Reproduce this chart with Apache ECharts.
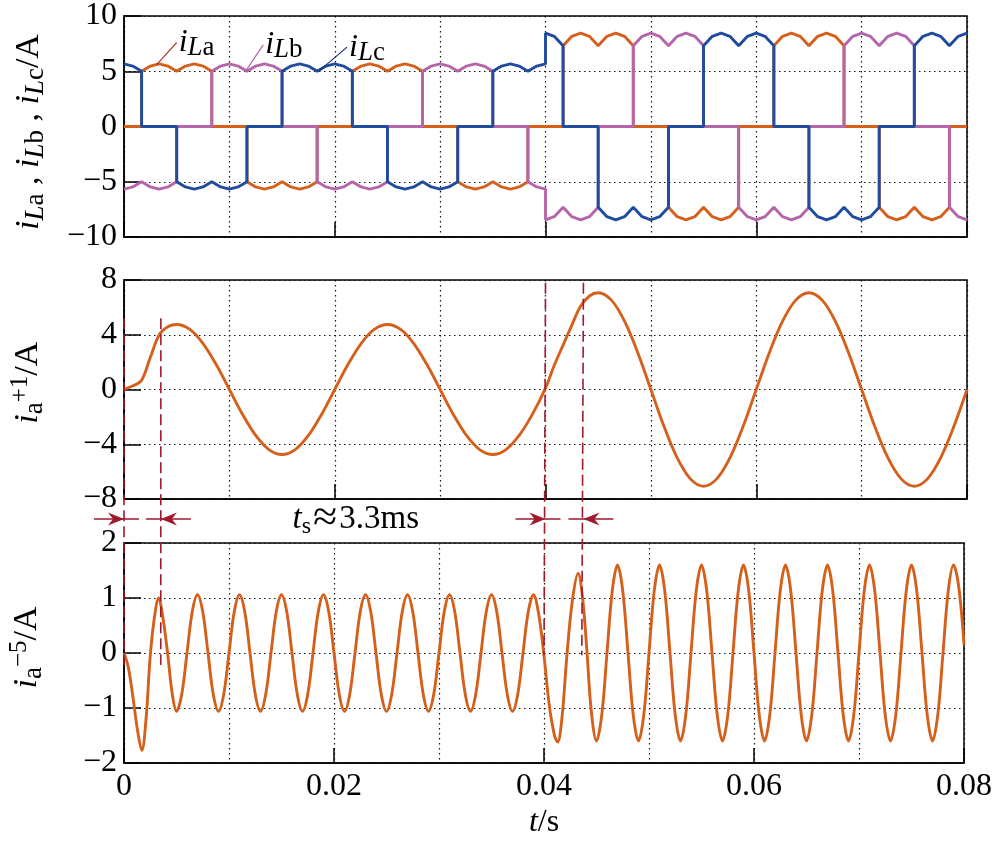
<!DOCTYPE html>
<html><head><meta charset="utf-8">
<script src="https://cdn.jsdelivr.net/npm/echarts@6/dist/echarts.min.js"></script>
<style>html,body{margin:0;padding:0;background:#fff}#c{width:995px;height:845px}</style>
</head><body><div id="c"></div>
<script>
// ---- data (time in ms, current in A) ----
const xTickLabels = ['0', '0.02', '0.04', '0.06', '0.08']; // at 0,20,40,60,80 ms
const yTicksTop = [-10, -5, 0, 5, 10];
const yTicksMid = [-8, -4, 0, 4, 8];
const yTicksBot = [-2, -1, 0, 1, 2];

const iLa = [[0,0],[1.67,0],
[1.67,5],[2.5,5.47],[3.33,5.66],[4.17,5.47],[5,5],[5.83,5.47],[6.67,5.66],[7.5,5.47],[8.33,5],[8.33,0],
[11.67,0],[11.67,-5],[12.5,-5.47],[13.33,-5.66],[14.17,-5.47],[15,-5],[15.83,-5.47],[16.67,-5.66],[17.5,-5.47],[18.33,-5],[18.33,0],
[21.67,0],[21.67,5],[22.5,5.47],[23.33,5.66],[24.17,5.47],[25,5],[25.83,5.47],[26.67,5.66],[27.5,5.47],[28.33,5],[28.33,0],
[31.67,0],[31.67,-5],[32.5,-5.47],[33.33,-5.66],[34.17,-5.47],[35,-5],[35.83,-5.47],[36.67,-5.66],[37.5,-5.47],[38.33,-5],[38.33,0],
[41.67,0],[41.67,7.3],[42.5,8.16],[43.33,8.45],[44.17,8.16],[45,7.3],[45.83,8.16],[46.67,8.45],[47.5,8.16],[48.33,7.3],[48.33,0],
[51.67,0],[51.67,-7.3],[52.5,-8.16],[53.33,-8.45],[54.17,-8.16],[55,-7.3],[55.83,-8.16],[56.67,-8.45],[57.5,-8.16],[58.33,-7.3],[58.33,0],
[61.67,0],[61.67,7.3],[62.5,8.16],[63.33,8.45],[64.17,8.16],[65,7.3],[65.83,8.16],[66.67,8.45],[67.5,8.16],[68.33,7.3],[68.33,0],
[71.67,0],[71.67,-7.3],[72.5,-8.16],[73.33,-8.45],[74.17,-8.16],[75,-7.3],[75.83,-8.16],[76.67,-8.45],[77.5,-8.16],[78.33,-7.3],[78.33,0],
[80,0]];

const iLb = [[0,-5.66],[0.83,-5.47],[1.67,-5],[2.5,-5.47],[3.33,-5.66],[4.17,-5.47],[5,-5],[5,0],
[8.33,0],[8.33,5],[9.17,5.47],[10,5.66],[10.83,5.47],[11.67,5],[12.5,5.47],[13.33,5.66],[14.17,5.47],[15,5],[15,0],
[18.33,0],[18.33,-5],[19.17,-5.47],[20,-5.66],[20.83,-5.47],[21.67,-5],[22.5,-5.47],[23.33,-5.66],[24.17,-5.47],[25,-5],[25,0],
[28.33,0],[28.33,5],[29.17,5.47],[30,5.66],[30.83,5.47],[31.67,5],[32.5,5.47],[33.33,5.66],[34.17,5.47],[35,5],[35,0],
[38.33,0],[38.33,-5],[39.17,-5.47],[40,-5.66],[40,-8.45],[40.83,-8.16],[41.67,-7.3],[42.5,-8.16],[43.33,-8.45],[44.17,-8.16],[45,-7.3],[45,0],
[48.33,0],[48.33,7.3],[49.17,8.16],[50,8.45],[50.83,8.16],[51.67,7.3],[52.5,8.16],[53.33,8.45],[54.17,8.16],[55,7.3],[55,0],
[58.33,0],[58.33,-7.3],[59.17,-8.16],[60,-8.45],[60.83,-8.16],[61.67,-7.3],[62.5,-8.16],[63.33,-8.45],[64.17,-8.16],[65,-7.3],[65,0],
[68.33,0],[68.33,7.3],[69.17,8.16],[70,8.45],[70.83,8.16],[71.67,7.3],[72.5,8.16],[73.33,8.45],[74.17,8.16],[75,7.3],[75,0],
[78.33,0],[78.33,-7.3],[79.17,-8.16],[80,-8.45]];

const iLc = [[0,5.66],[0.83,5.47],[1.67,5],[1.67,0],
[5,0],[5,-5],[5.83,-5.47],[6.67,-5.66],[7.5,-5.47],[8.33,-5],[9.17,-5.47],[10,-5.66],[10.83,-5.47],[11.67,-5],[11.67,0],
[15,0],[15,5],[15.83,5.47],[16.67,5.66],[17.5,5.47],[18.33,5],[19.17,5.47],[20,5.66],[20.83,5.47],[21.67,5],[21.67,0],
[25,0],[25,-5],[25.83,-5.47],[26.67,-5.66],[27.5,-5.47],[28.33,-5],[29.17,-5.47],[30,-5.66],[30.83,-5.47],[31.67,-5],[31.67,0],
[35,0],[35,5],[35.83,5.47],[36.67,5.66],[37.5,5.47],[38.33,5],[39.17,5.47],[40,5.66],[40,8.45],[40.83,8.16],[41.67,7.3],[41.67,0],
[45,0],[45,-7.3],[45.83,-8.16],[46.67,-8.45],[47.5,-8.16],[48.33,-7.3],[49.17,-8.16],[50,-8.45],[50.83,-8.16],[51.67,-7.3],[51.67,0],
[55,0],[55,7.3],[55.83,8.16],[56.67,8.45],[57.5,8.16],[58.33,7.3],[59.17,8.16],[60,8.45],[60.83,8.16],[61.67,7.3],[61.67,0],
[65,0],[65,-7.3],[65.83,-8.16],[66.67,-8.45],[67.5,-8.16],[68.33,-7.3],[69.17,-8.16],[70,-8.45],[70.83,-8.16],[71.67,-7.3],[71.67,0],
[75,0],[75,7.3],[75.83,8.16],[76.67,8.45],[77.5,8.16],[78.33,7.3],[79.17,8.16],[80,8.45]];

const ia1 = [[0,0],[0.8,0.25],[1.65,0.65],[2.5,2.35],[3.35,4.0],[4.2,4.6],[5,4.75],[6.25,4.39],[7.5,3.36],[8.75,1.82],
[10,0],[11.25,-1.82],[12.5,-3.36],[13.75,-4.39],[15,-4.75],[16.25,-4.39],[17.5,-3.36],[18.75,-1.82],
[20,0],[21.25,1.82],[22.5,3.36],[23.75,4.39],[25,4.75],[26.25,4.39],[27.5,3.36],[28.75,1.82],
[30,0],[31.25,-1.82],[32.5,-3.36],[33.75,-4.39],[35,-4.75],[36.25,-4.39],[37.5,-3.36],[38.75,-1.82],
[40,0.1],[40.8,1.7],[41.7,3.3],[42.5,4.7],[43.3,6.05],[44.2,6.85],[45,7.07],[46.25,6.53],[47.5,5.0],[48.75,2.71],
[50,0],[51.25,-2.71],[52.5,-5.0],[53.75,-6.53],[55,-7.07],[56.25,-6.53],[57.5,-5.0],[58.75,-2.71],
[60,0],[61.25,2.71],[62.5,5.0],[63.75,6.53],[65,7.07],[66.25,6.53],[67.5,5.0],[68.75,2.71],
[70,0],[71.25,-2.71],[72.5,-5.0],[73.75,-6.53],[75,-7.07],[76.25,-6.53],[77.5,-5.0],[78.75,-2.71],[80,0]];

const ia5 = [[0,0],[0.4,-0.25],[0.85,-0.8],[1.3,-1.42],[1.7,-1.77],[2.1,-1.2],[2.5,-0.05],[2.9,0.65],[3.3,1.0],[3.7,0.65],[4.15,0],[4.6,-0.75],
[5,-1.06],[5.5,-0.75],[6,0],[6.5,0.75],[7,1.06],[7.5,0.75],[8,0],[8.5,-0.75],
[9,-1.06],[9.5,-0.75],[10,0],[10.5,0.75],[11,1.06],[11.5,0.75],[12,0],[12.5,-0.75],
[13,-1.06],[13.5,-0.75],[14,0],[14.5,0.75],[15,1.06],[15.5,0.75],[16,0],[16.5,-0.75],
[17,-1.06],[17.5,-0.75],[18,0],[18.5,0.75],[19,1.06],[19.5,0.75],[20,0],[20.5,-0.75],
[21,-1.06],[21.5,-0.75],[22,0],[22.5,0.75],[23,1.06],[23.5,0.75],[24,0],[24.5,-0.75],
[25,-1.06],[25.5,-0.75],[26,0],[26.5,0.75],[27,1.06],[27.5,0.75],[28,0],[28.5,-0.75],
[29,-1.06],[29.5,-0.75],[30,0],[30.5,0.75],[31,1.06],[31.5,0.75],[32,0],[32.5,-0.75],
[33,-1.06],[33.5,-0.75],[34,0],[34.5,0.75],[35,1.06],[35.5,0.75],[36,0],[36.5,-0.75],
[37,-1.06],[37.5,-0.75],[38,0],[38.5,0.75],[39,1.06],[39.5,0.7],[40,-0.05],[40.5,-0.95],[41,-1.5],[41.3,-1.62],[41.7,-1.2],
[42.2,0],[42.7,0.95],[43.25,1.45],[43.7,0.95],[44.1,0],[44.5,-1.05],
[45,-1.6],[45.5,-1.13],[46,0],[46.5,1.13],[47,1.6],[47.5,1.13],[48,0],[48.5,-1.13],
[49,-1.6],[49.5,-1.13],[50,0],[50.5,1.13],[51,1.6],[51.5,1.13],[52,0],[52.5,-1.13],
[53,-1.6],[53.5,-1.13],[54,0],[54.5,1.13],[55,1.6],[55.5,1.13],[56,0],[56.5,-1.13],
[57,-1.6],[57.5,-1.13],[58,0],[58.5,1.13],[59,1.6],[59.5,1.13],[60,0],[60.5,-1.13],
[61,-1.6],[61.5,-1.13],[62,0],[62.5,1.13],[63,1.6],[63.5,1.13],[64,0],[64.5,-1.13],
[65,-1.6],[65.5,-1.13],[66,0],[66.5,1.13],[67,1.6],[67.5,1.13],[68,0],[68.5,-1.13],
[69,-1.6],[69.5,-1.13],[70,0],[70.5,1.13],[71,1.6],[71.5,1.13],[72,0],[72.5,-1.13],
[73,-1.6],[73.5,-1.13],[74,0],[74.5,1.13],[75,1.6],[75.5,1.13],[76,0],[76.5,-1.13],
[77,-1.6],[77.5,-1.13],[78,0],[78.5,1.13],[79,1.6],[79.5,1.2],[80,0.15]];

// annotation markers (ms)
const markerTimes = [0, 3.5, 40, 43.6];
const markerTopMid = [5.2, 5.2, 7.8, 7.8];     // upper end, middle-plot units
const markerBotLow = [-0.22, -0.22, -0.04, -0.04]; // lower end, bottom-plot units

// ---- styling ----
const FONT = 'Liberation Serif';
const ORANGE = '#D4601C', PURPLE = '#B566AA', BLUE = '#1F4C9C', RED = '#9E1A2C';
const dotted = {color: '#111', width: 1.2, type: [1.5, 3.5]};

const chart = echarts.init(document.getElementById('c'));

const grids = [
  {left: 124, right: 28, top: 16, height: 221},
  {left: 124, right: 28, top: 280, height: 219},
  {left: 124, right: 28, top: 543, height: 220}
].map(g => Object.assign(g, {show: true, borderColor: '#000', borderWidth: 1.5, containLabel: false}));

function xAxis(i, showLabel) {
  return {
    type: 'value', gridIndex: i, min: 0, max: 80, interval: 20,
    axisLine: {show: true, onZero: false, lineStyle: {color: '#000', width: 1.5}},
    axisTick: {show: true, inside: true, length: 15, lineStyle: {color: '#000', width: 1.5}},
    axisLabel: {show: showLabel, margin: 8, color: '#000', fontFamily: FONT, fontSize: 32,
      formatter: v => xTickLabels[Math.round(v / 20)]},
    splitLine: {show: true, lineStyle: dotted},
    minorTick: {show: false, splitNumber: 2},
    minorSplitLine: {show: true, lineStyle: dotted},
    name: showLabel ? '{it|t}{n|/s}' : '',
    nameLocation: 'middle', nameGap: 44,
    nameTextStyle: {color: '#000', fontFamily: FONT, fontSize: 32,
      rich: {it: {fontStyle: 'italic', fontSize: 32, fontFamily: FONT, color: '#000'},
             n: {fontSize: 32, fontFamily: FONT, color: '#000'}}}
  };
}
function yAxis(i, ticks) {
  return {
    type: 'value', gridIndex: i, min: ticks[0], max: ticks[ticks.length - 1],
    interval: ticks[1] - ticks[0],
    axisLine: {show: true, onZero: false, lineStyle: {color: '#000', width: 1.5}},
    axisTick: {show: true, inside: true, length: 17, lineStyle: {color: '#000', width: 1.5}},
    axisLabel: {margin: 7, color: '#000', fontFamily: FONT, fontSize: 32,
      formatter: v => String(v).replace('-', '\u2212')},
    splitLine: {show: true, lineStyle: dotted}
  };
}

const lineS = (name, data, color, xi, extra) => Object.assign({
  name, type: 'line', data, xAxisIndex: xi, yAxisIndex: xi,
  showSymbol: false, symbol: 'none', lineStyle: {color, width: 2.9}, itemStyle: {color},
  animation: false, z: 3
}, extra || {});

chart.setOption({
  animation: false,
  backgroundColor: '#fff',
  textStyle: {fontFamily: FONT},
  grid: grids,
  xAxis: [xAxis(0, false), xAxis(1, false), xAxis(2, true)],
  yAxis: [yAxis(0, yTicksTop), yAxis(1, yTicksMid), yAxis(2, yTicksBot)],
  series: [
    lineS('iLa', iLa, ORANGE, 0),
    lineS('iLb', iLb, PURPLE, 0),
    lineS('iLc', iLc, BLUE, 0),
    lineS('ia+1', ia1, ORANGE, 1, {smooth: 0.35}),
    lineS('ia-5', ia5, ORANGE, 2, {smooth: 0.35})
  ]
});

// ---- annotations positioned through the chart's own scales ----
const P = (gi, x, y) => chart.convertToPixel({gridIndex: gi}, [x, y]);
const g = [];
markerTimes.forEach((t, i) => {
  const a = P(1, t, markerTopMid[i]), b = P(2, t, markerBotLow[i]);
  g.push({type: 'line', z: 50, shape: {x1: a[0], y1: a[1], x2: b[0], y2: b[1]},
    style: {stroke: RED, lineWidth: 1.6, lineDash: [11, 5]}});
});
const yA = (P(1, 0, -8)[1] + P(2, 0, 2)[1]) / 2 - 2;
for (let k = 0; k < markerTimes.length; k += 2) {
  const x0 = P(1, markerTimes[k], 0)[0], x1 = P(1, markerTimes[k + 1], 0)[0];
  g.push({type: 'line', z: 50, shape: {x1: x0 - 30, y1: yA, x2: x0 + 15, y2: yA}, style: {stroke: RED, lineWidth: 1.6}});
  g.push({type: 'polygon', z: 51, shape: {points: [[x0, yA], [x0 - 16, yA - 6.5], [x0 - 11, yA], [x0 - 16, yA + 6.5]]}, style: {fill: RED}});
  g.push({type: 'line', z: 50, shape: {x1: x1 - 15, y1: yA, x2: x1 + 30, y2: yA}, style: {stroke: RED, lineWidth: 1.6}});
  g.push({type: 'polygon', z: 51, shape: {points: [[x1, yA], [x1 + 16, yA - 6.5], [x1 + 11, yA], [x1 + 16, yA + 6.5]]}, style: {fill: RED}});
}
// t_s ≈ 3.3ms
const txs = P(1, 16, 0)[0];
g.push({type: 'text', z: 60, x: txs, y: yA, style: {
  text: '{it|t}{sub|s}{ap|\u2248}{n|3.3ms}', align: 'left', verticalAlign: 'middle', fill: '#000',
  rich: {
    it: {fontFamily: FONT, fontSize: 33, fontStyle: 'italic', lineHeight: 40, verticalAlign: 'middle', fill: '#000'},
    sub: {fontFamily: FONT, fontSize: 24, lineHeight: 22, verticalAlign: 'bottom', fill: '#000'},
    ap: {fontFamily: FONT, fontSize: 44, lineHeight: 40, verticalAlign: 'middle', fill: '#000', padding: [0, 2, 0, 2]},
    n: {fontFamily: FONT, fontSize: 33, lineHeight: 40, verticalAlign: 'middle', fill: '#000'}
  }}});

// curve labels with leader lines (top plot)
const richLbl = {
  i: {fontFamily: FONT, fontSize: 32, fontStyle: 'italic', lineHeight: 38, verticalAlign: 'middle', fill: '#000'},
  si: {fontFamily: FONT, fontSize: 27, fontStyle: 'italic', lineHeight: 28, verticalAlign: 'bottom', fill: '#000'},
  s: {fontFamily: FONT, fontSize: 27, lineHeight: 28, verticalAlign: 'bottom', fill: '#000'}
};
const leaders = [
  {t: 3.1, v: 5.6, dx: 20, dy: -22, col: '#B0301E', txt: '{i|i}{si|L}{s|a}'},
  {t: 11.5, v: 4.95, dx: 18, dy: -27, col: PURPLE, txt: '{i|i}{si|L}{s|b}'},
  {t: 18.6, v: 5.1, dx: 27, dy: -23, col: '#1A2F80', txt: '{i|i}{si|L}{s|c}'}
];
leaders.forEach(L => {
  const p = P(0, L.t, L.v);
  g.push({type: 'line', z: 50, shape: {x1: p[0], y1: p[1], x2: p[0] + L.dx, y2: p[1] + L.dy}, style: {stroke: L.col, lineWidth: 1.2}});
  g.push({type: 'text', z: 60, x: p[0] + L.dx + 2, y: p[1] + L.dy, style: {
    text: L.txt, align: 'left', verticalAlign: 'middle', fill: '#000', rich: richLbl}});
});

// rotated y-axis titles
const richY = {
  i: {fontFamily: FONT, fontSize: 34, fontStyle: 'italic', lineHeight: 40, verticalAlign: 'middle', fill: '#000'},
  n: {fontFamily: FONT, fontSize: 34, lineHeight: 40, verticalAlign: 'middle', fill: '#000'},
  si: {fontFamily: FONT, fontSize: 27, fontStyle: 'italic', lineHeight: 24, verticalAlign: 'bottom', fill: '#000'},
  s: {fontFamily: FONT, fontSize: 27, lineHeight: 24, verticalAlign: 'bottom', fill: '#000'},
  sup: {fontFamily: FONT, fontSize: 25, lineHeight: 20, verticalAlign: 'top', fill: '#000'}
};
const yTitles = [
  {gi: 0, yv: -0.5, dx: -95, txt: '{i|i}{si|L}{s|a}{n| , }{i|i}{si|L}{s|b}{n| , }{i|i}{si|L}{s|c}{n|/A}'},
  {gi: 1, yv: 0.5, dx: -96, txt: '{i|i}{s|a}{sup|+1}{n|/A}'},
  {gi: 2, yv: 0.1, dx: -97, txt: '{i|i}{s|a}{sup|\u22125}{n|/A}'}
];
yTitles.forEach(T => {
  const p = P(T.gi, 0, T.yv);
  g.push({type: 'text', z: 60, x: p[0] + T.dx, y: p[1], rotation: Math.PI / 2, style: {
    text: T.txt, align: 'center', verticalAlign: 'middle', fill: '#000', rich: richY}});
});

chart.setOption({graphic: g});
</script></body></html>
